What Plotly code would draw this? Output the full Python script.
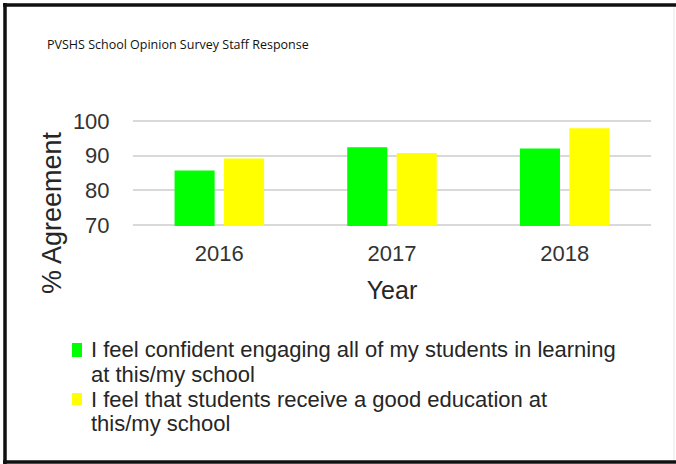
import plotly.graph_objects as go

# Survey results (% agreement) by year
years = ["2016", "2017", "2018"]
confident_engaging = [85.7, 92.4, 92.1]
good_education = [89.2, 90.8, 97.9]

# Legend entries, already wrapped into display lines
series_lines = [
    ["I feel confident engaging all of my students in learning", "at this/my school"],
    ["I feel that students receive a good education at", "this/my school"],
]
series_colors = ["#00ff00", "#ffff00"]

chart_title = "PVSHS School Opinion Survey Staff Response"
y_title = "% Agreement"
x_title = "Year"

W, H = 676, 464
ML, MR, MT, MB = 133, 25, 120, 238
PW, PH = W - ML - MR, H - MT - MB


def px_x(p):
    """Pixel column -> paper x."""
    return (p - ML) / PW


def px_y(p):
    """Pixel row -> paper y."""
    return (H - MB - p) / PH


fig = go.Figure()
for lines, vals, col in zip(series_lines, [confident_engaging, good_education], series_colors):
    fig.add_trace(go.Bar(x=years, y=vals, name=" ".join(lines),
                         marker=dict(color=col, line=dict(width=0))))

text_col = "#333333"
legend_col = "#262626"

annotations = [
    dict(
        text=y_title, textangle=-90,
        xref="paper", yref="paper",
        x=px_x(52), y=px_y(213), xanchor="center", yanchor="middle",
        showarrow=False, font=dict(size=27, color=legend_col),
    )
]
shapes = [
    # outer frame (left, top, bottom) and faint right edge
    dict(type="line", xref="paper", yref="paper", x0=px_x(5), x1=px_x(5), y0=px_y(3), y1=px_y(464),
         line=dict(color="#111111", width=3.5)),
    dict(type="line", xref="paper", yref="paper", x0=px_x(3), x1=px_x(676), y0=px_y(5), y1=px_y(5),
         line=dict(color="#111111", width=3.5)),
    dict(type="line", xref="paper", yref="paper", x0=px_x(3), x1=px_x(676), y0=px_y(462), y1=px_y(462),
         line=dict(color="#111111", width=3.5)),
    dict(type="line", xref="paper", yref="paper", x0=px_x(674), x1=px_x(674), y0=px_y(7), y1=px_y(460),
         line=dict(color="#e6e6e6", width=1)),
]

# Legend block below the chart: colour key + wrapped text lines
line_rows = [[349.5, 374.3], [399.0, 423.7]]
key_rows = [(343, 357), (393, 405)]
for lines, rows, (k0, k1), col in zip(series_lines, line_rows, key_rows, series_colors):
    shapes.append(dict(type="rect", xref="paper", yref="paper",
                       x0=px_x(72), x1=px_x(82), y0=px_y(k1), y1=px_y(k0),
                       fillcolor=col, line=dict(width=0)))
    for txt, row in zip(lines, rows):
        annotations.append(dict(
            text=txt, xref="paper", yref="paper",
            x=px_x(89), y=px_y(row), xanchor="left", yanchor="middle",
            showarrow=False, font=dict(size=22, color=legend_col),
        ))

fig.update_layout(
    width=W,
    height=H,
    margin=dict(l=ML, r=MR, t=MT, b=MB, pad=0),
    paper_bgcolor="white",
    plot_bgcolor="white",
    barmode="group",
    bargap=0.427,
    bargroupgap=0.19,
    font=dict(family="Liberation Sans, Arial, sans-serif", color=text_col),
    title=dict(
        text=chart_title,
        font=dict(family="Open Sans, sans-serif", size=12.5, color="#111111"),
        xref="container", x=47 / W, xanchor="left",
        yref="container", y=1 - 45 / H, yanchor="middle",
    ),
    showlegend=False,
    xaxis=dict(
        showgrid=False,
        showline=False,
        ticks="outside", ticklen=8, tickcolor="rgba(0,0,0,0)",
        tickfont=dict(size=22, color=text_col),
        title=dict(text=x_title, font=dict(size=25, color=legend_col), standoff=16),
    ),
    yaxis=dict(
        range=[69.7, 100.3],
        tickvals=[70, 80, 90, 100],
        showgrid=True, gridcolor="#d9d9d9", gridwidth=1.5,
        zeroline=False, showline=False,
        ticks="outside", ticklen=18, tickcolor="rgba(0,0,0,0)",
        tickfont=dict(size=22, color=text_col),
    ),
    annotations=annotations,
    shapes=shapes,
)

fig.write_html("out.html")
